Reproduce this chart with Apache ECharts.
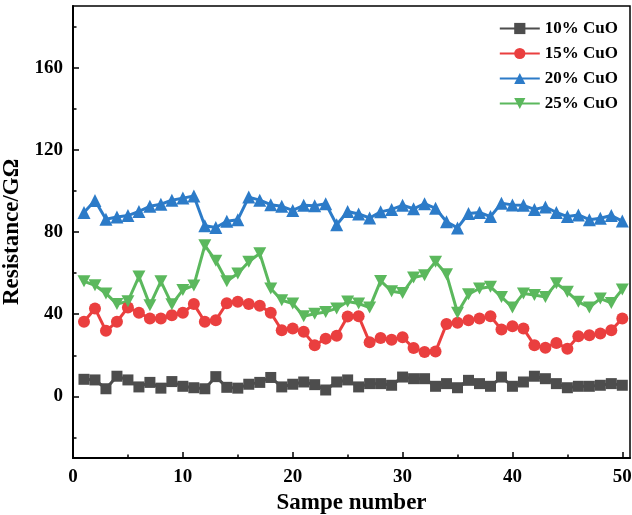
<!DOCTYPE html>
<html>
<head>
<meta charset="utf-8">
<script src="https://cdn.jsdelivr.net/npm/echarts@6/dist/echarts.min.js"></script>
<style>
  html, body { margin: 0; padding: 0; background: #fff; }
  #chart { width: 632px; height: 515px; }
</style>
</head>
<body>
<div id="chart"></div>
<script>
// sample numbers 1..50
var samples = [];
for (var i = 1; i <= 50; i++) samples.push(i);

var cuo10 = [8.3, 8, 3.7, 9.8, 8, 4.6, 6.8, 4, 7.2, 4.9, 4.2, 3.7, 9.6, 4.4, 4, 5.9, 6.8, 9.2, 4.6, 5.9,
             7, 5.7, 3.1, 7, 8, 4.6, 6.2, 6.2, 5.4, 9.4, 8.6, 8.6, 4.9, 6.2, 4.2, 7.8, 6.2, 4.9, 9.4, 4.9,
             7, 9.8, 8.6, 6.2, 4.2, 4.9, 4.9, 5.4, 6.2, 5.4];
var cuo15 = [36.3, 42.8, 31.9, 36.3, 43.3, 40.7, 37.9, 37.9, 39.5, 40.7, 44.9, 36.3, 37.1, 45.3, 46, 45, 44.1, 40.7, 32.2, 33,
             31.4, 24.9, 28.1, 29.5, 38.9, 39, 26.3, 28.4, 27.6, 28.8, 23.5, 21.6, 21.8, 35.2, 35.8, 37.1, 37.9, 39, 32.5, 34.1,
             33, 24.9, 23.7, 26, 23.2, 29.3, 29.8, 30.6, 32.2, 37.9];
var cuo20 = [89.5, 95.3, 86.2, 87.3, 88, 90, 92.5, 93.5, 95.5, 96.5, 97.5, 83, 82.2, 85.2, 86, 97, 95.5, 93.3, 92.5, 90.5,
             93, 92.8, 93.8, 83.5, 90, 88.8, 86.8, 89.8, 91, 93, 91.3, 93.8, 91.5, 85, 82, 89, 89.5, 87.5, 94, 93.2,
             93, 91, 92.2, 89.5, 87.5, 88.3, 86, 86.7, 88, 85.3];
var cuo25 = [56, 54.1, 50.1, 44.9, 46.3, 58.3, 44.4, 56, 44.8, 51.8, 54, 73.5, 66, 56, 59.8, 65.5, 69.6, 52.5, 46.8, 45.2,
             39, 40.2, 41.1, 42.8, 46.2, 45.2, 43.2, 56.2, 51.2, 50.3, 57.8, 59, 65.5, 59.4, 40.7, 49.7, 52.5, 53.3, 48.4, 43.3,
             50.1, 49.3, 48.4, 55, 50.9, 46, 43.3, 47.6, 45.5, 52];

var names = ['10% CuO', '15% CuO', '20% CuO', '25% CuO'];
var colors = ['#4d4d4d', '#ea3f3f', '#2c7bc8', '#5bb85d'];
var yLabels = [0, 40, 80, 120, 160];
var yMinor = [-20, 20, 60, 100, 140, 180];
var xLabels = [0, 10, 20, 30, 40, 50];
var xMinor = [5, 15, 25, 35, 45];

function pairs(vals) {
  return samples.map(function (s, k) { return [s, vals[k]]; });
}

var font = "'Liberation Serif', 'Times New Roman', serif";

var myChart = echarts.init(document.getElementById('chart'));
var option = {
  animation: false,
  color: colors,
  grid: {
    left: 73, right: 2, top: 6, bottom: 57,
    outerBoundsMode: 'none', containLabel: false,
    show: true, borderColor: '#000', borderWidth: 1.5
  },
  legend: {
    right: 9, top: 15, orient: 'vertical',
    itemWidth: 40, itemHeight: 14, itemGap: 8,
    textStyle: { fontFamily: font, fontWeight: 'bold', fontSize: 17, color: '#000' },
    data: names
  },
  xAxis: [{
    type: 'value', min: 0, max: 50.7,
    name: 'Sampe number', nameLocation: 'middle', nameGap: 29,
    nameTextStyle: { fontFamily: font, fontWeight: 'bold', fontSize: 23, color: '#000' },
    axisLine: { onZero: false, lineStyle: { color: '#000', width: 2 } },
    axisTick: { inside: true, length: 6, lineStyle: { color: '#000', width: 1.5 }, customValues: xLabels },
    axisLabel: { customValues: xLabels, margin: 10, fontFamily: font, fontWeight: 'bold', fontSize: 19, color: '#000' },
    splitLine: { show: false }
  }, {
    type: 'value', min: 0, max: 50.7, position: 'bottom',
    axisLine: { show: false, onZero: false },
    axisTick: { inside: true, length: 3.5, lineStyle: { color: '#000', width: 1.5 }, customValues: xMinor },
    axisLabel: { show: false },
    splitLine: { show: false }
  }],
  yAxis: [{
    type: 'value', min: -30, max: 190,
    name: 'Resistance/G\u03A9', nameLocation: 'middle', nameGap: 47,
    nameTextStyle: { fontFamily: font, fontWeight: 'bold', fontSize: 23, color: '#000' },
    axisLine: { show: true, onZero: false, lineStyle: { color: '#000', width: 2 } },
    axisTick: { show: true, inside: true, length: 6, lineStyle: { color: '#000', width: 1.5 }, customValues: yLabels },
    axisLabel: { customValues: yLabels, margin: 10, fontFamily: font, fontWeight: 'bold', fontSize: 19, color: '#000' },
    splitLine: { show: false }
  }, {
    type: 'value', min: -30, max: 190, position: 'left',
    axisLine: { show: false, onZero: false },
    axisTick: { show: true, inside: true, length: 3.5, lineStyle: { color: '#000', width: 1.5 }, customValues: yMinor },
    axisLabel: { show: false },
    splitLine: { show: false }
  }],
  series: [{
    name: names[0], type: 'line', data: pairs(cuo10),
    symbol: 'rect', symbolSize: 11,
    lineStyle: { width: 3 }
  }, {
    name: names[1], type: 'line', data: pairs(cuo15),
    symbol: 'circle', symbolSize: 12,
    lineStyle: { width: 3 }
  }, {
    name: names[2], type: 'line', data: pairs(cuo20),
    symbol: 'triangle', symbolSize: 13,
    lineStyle: { width: 3 }
  }, {
    name: names[3], type: 'line', data: pairs(cuo25),
    symbol: 'path://M0,0 L10,0 L5,9 Z', symbolSize: [13, 12],
    lineStyle: { width: 3 }
  }]
};
myChart.setOption(option);
</script>
</body>
</html>
